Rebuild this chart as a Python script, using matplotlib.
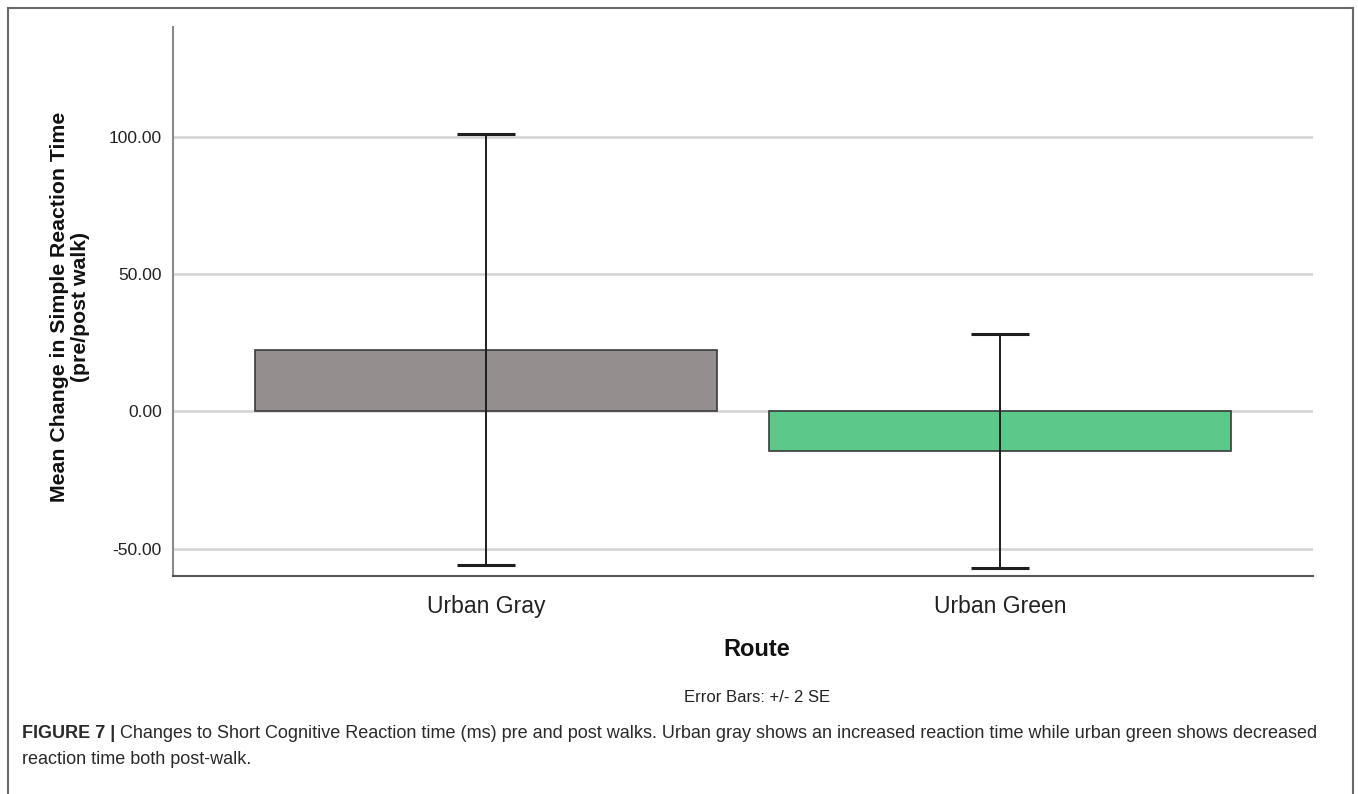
import matplotlib.pyplot as plt
from matplotlib.lines import Line2D

plt.rcParams['font.family'] = ['Liberation Sans', 'DejaVu Sans']

# Mean change in simple reaction time per route, with +/- 2 SE
routes = ['Urban Gray', 'Urban Green']
means = [22.5, -14.5]
err_2se = [78.6, 42.6]
bar_colors = ['#958e8e', '#5bc98a']
yticks = [-50, 0, 50, 100]

W, H = 1358, 794
fig = plt.figure(figsize=(W / 100, H / 100), dpi=100)

# plot area in pixel units
left, right, top, bottom = 173, 1313, 27, 576
ax = fig.add_axes([left / W, 1 - bottom / H, (right - left) / W, (bottom - top) / H])

x = range(len(routes))
ax.bar(x, means, width=0.9, color=bar_colors, edgecolor='#3a3a3a', linewidth=1.2, zorder=2)
ax.errorbar(x, means, yerr=err_2se, fmt='none', ecolor='#1e1e1e',
            elinewidth=1.4, capsize=21, capthick=2.2, zorder=3)

ax.set_xlim(-0.609, 1.609)
ax.set_ylim(-60, 140)
ax.set_yticks(yticks)
ax.set_yticklabels([f'{v:.2f}' for v in yticks], fontsize=12.5, color='#222222')
ax.set_xticks(list(x))
ax.set_xticklabels(routes, fontsize=16.5, color='#222222')
ax.tick_params(length=0, pad=8)
ax.tick_params(axis='x', pad=14)

ax.grid(axis='y', color='#d2d2d2', linewidth=1.8)
ax.set_axisbelow(True)
for side in ['top', 'right']:
    ax.spines[side].set_visible(False)
ax.spines['left'].set_color('#8a8a8a')
ax.spines['bottom'].set_color('#555555')
ax.spines['left'].set_linewidth(1.5)
ax.spines['bottom'].set_linewidth(1.5)

# axis titles
fig.text(70 / W, 1 - 307 / H, 'Mean Change in Simple Reaction Time\n(pre/post walk)',
         rotation=90, ha='center', va='center', fontsize=15.3, fontweight='bold',
         linespacing=1.12, color='#111111')
fig.text(757 / W, 1 - 649 / H, 'Route', ha='center', va='center',
         fontsize=17, fontweight='bold', color='#111111')
fig.text(757 / W, 1 - 698 / H, 'Error Bars: +/- 2 SE', ha='center', va='center',
         fontsize=12, color='#222222')

# caption: bold label followed by plain text on the same line
cap_x = 22 / W
cap_size = 13
head = fig.text(cap_x, 1 - 733 / H, 'FIGURE 7 |', ha='left', va='center',
                fontsize=cap_size, fontweight='bold', color='#2a2a2a')
renderer = fig.canvas.get_renderer()
bb = head.get_window_extent(renderer=renderer)
fig.text((bb.x1 + 5) / W, 1 - 733 / H,
         'Changes to Short Cognitive Reaction time (ms) pre and post walks. '
         'Urban gray shows an increased reaction time while urban green shows decreased',
         ha='left', va='center', fontsize=cap_size, color='#2a2a2a')
fig.text(cap_x, 1 - 760 / H, 'reaction time both post-walk.',
         ha='left', va='center', fontsize=cap_size, color='#2a2a2a')

# outer frame
frame_kw = dict(color='#6a6a6a', linewidth=1.5, transform=fig.transFigure)
fig.add_artist(Line2D([8 / W, 8 / W], [0, 1 - 8 / H], **frame_kw))
fig.add_artist(Line2D([8 / W, 1353 / W], [1 - 8 / H, 1 - 8 / H], **frame_kw))
fig.add_artist(Line2D([1353 / W, 1353 / W], [0, 1 - 8 / H], **frame_kw))

fig.savefig('out.png', dpi=100)
